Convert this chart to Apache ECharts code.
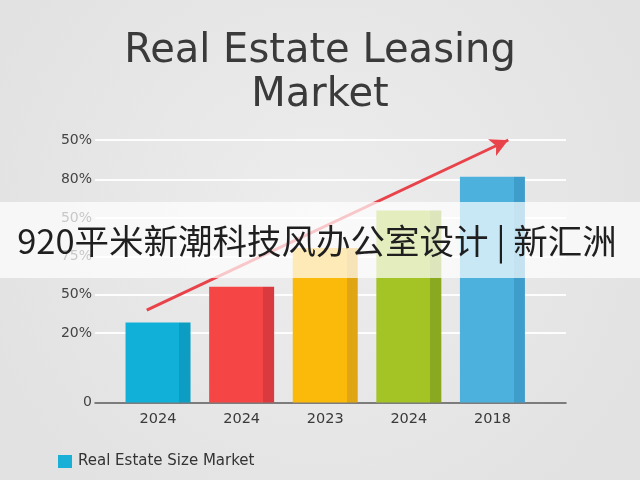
<!DOCTYPE html>
<html>
<head>
<meta charset="utf-8">
<script src="https://cdn.jsdelivr.net/npm/echarts@6/dist/echarts.min.js"></script>
<style>html,body{margin:0;padding:0;}#c{width:640px;height:480px;}</style>
</head>
<body>
<div id="c"></div>
<script>
var categories = ['2024', '2024', '2023', '2024', '2018'];
var values = [30.5, 44.1, 58.9, 73.1, 86.0];
var yTickValues = [0, 26.4, 41.1, 55.5, 70.3, 85.0, 100];
var yTickLabels = ['0', '20%', '50%', '75%', '50%', '80%', '50%'];
var trendFrom = [-0.135, 35.2];
var trendTo = [4.19, 100];
var seriesName = 'Real Estate Size Market';
var bannerText = '920平米新潮科技风办公室设计 | 新汇洲';

var faceColors = ['#10b0d8', '#f64545', '#fbba0a', '#a4c426', '#4cb1dd'];
var sideColors = ['#0d9cc2', '#d83a3f', '#e0a512', '#8aa920', '#3f9dcb'];

function barGradient(i) {
  return new echarts.graphic.LinearGradient(0, 0, 1, 0, [
    {offset: 0, color: faceColors[i]},
    {offset: 0.83, color: faceColors[i]},
    {offset: 0.83, color: sideColors[i]},
    {offset: 1, color: sideColors[i]}
  ]);
}

var chart = echarts.init(document.getElementById('c'));
var barData = values.map(function (v, i) {
  return {value: [i, v], itemStyle: {color: barGradient(i)}};
});

chart.setOption({
  backgroundColor: new echarts.graphic.RadialGradient(0.5, 0.45, 0.75, [
    {offset: 0, color: '#ededed'},
    {offset: 1, color: '#e2e2e2'}
  ]),
  animation: false,
  title: {
    text: 'Real Estate Leasing\nMarket',
    left: 'center',
    top: 25,
    textStyle: {
      fontFamily: 'DejaVu Sans',
      fontSize: 40,
      fontWeight: 'normal',
      color: '#3a3a3a',
      lineHeight: 44
    }
  },
  legend: {
    left: 53,
    top: 449,
    icon: 'rect',
    itemWidth: 14,
    itemHeight: 13,
    itemGap: 10,
    textStyle: {fontFamily: 'DejaVu Sans', fontSize: 15, color: '#333', padding: [0, 0, 0, 1]},
    data: [{name: seriesName, itemStyle: {color: '#1aafd6'}}]
  },
  grid: {left: 95, right: 74, top: 140, bottom: 77.5},
  xAxis: {
    type: 'value',
    min: -0.754,
    max: 4.88,
    splitLine: {show: false},
    axisTick: {show: false},
    axisLine: {show: true, onZero: false, lineStyle: {color: '#5a5a5a', width: 1.5}},
    axisLabel: {
      customValues: [0, 1, 2, 3, 4],
      formatter: function (v) { return categories[Math.round(v)]; },
      fontFamily: 'DejaVu Sans',
      fontSize: 14.5,
      color: '#3a3a3a',
      margin: 9
    }
  },
  yAxis: {
    type: 'value',
    min: 0,
    max: 100,
    splitLine: {show: false},
    axisTick: {show: false},
    axisLine: {show: false},
    axisLabel: {
      customValues: yTickValues,
      formatter: function (v) {
        var idx = yTickValues.indexOf(v);
        return idx >= 0 ? yTickLabels[idx] : '';
      },
      fontFamily: 'DejaVu Sans',
      fontSize: 14,
      color: '#444',
      margin: 3
    }
  },
  series: [
    {
      type: 'line',
      data: [],
      silent: true,
      markLine: {
        z: 1,
        silent: true,
        symbol: ['none', 'none'],
        label: {show: false},
        lineStyle: {color: '#ffffff', width: 2, type: 'solid', opacity: 0.9},
        data: yTickValues.slice(1).map(function (v) { return {yAxis: v}; })
      }
    },
    {
      name: seriesName,
      type: 'bar',
      barWidth: 65,
      z: 3,
      itemStyle: {color: '#1aafd6'},
      data: barData,
      markLine: {
        z: 6,
        silent: true,
        symbol: ['none', 'arrow'],
        symbolSize: [14, 18],
        label: {show: false},
        lineStyle: {color: '#e8434a', width: 3, type: 'solid'},
        data: [[{coord: trendFrom}, {coord: trendTo}]]
      }
    }
  ],
  graphic: [
    {
      type: 'rect',
      z: 100,
      shape: {x: 0, y: 202, width: 640, height: 76},
      style: {fill: 'rgba(255,255,255,0.7)'}
    },
    {
      type: 'text',
      z: 101,
      x: 317,
      y: 241,
      style: {
        text: bannerText,
        fill: '#1f1f1f',
        font: '34.5px "Noto Sans CJK SC"',
        align: 'center',
        verticalAlign: 'middle'
      }
    }
  ]
});
</script>
</body>
</html>
